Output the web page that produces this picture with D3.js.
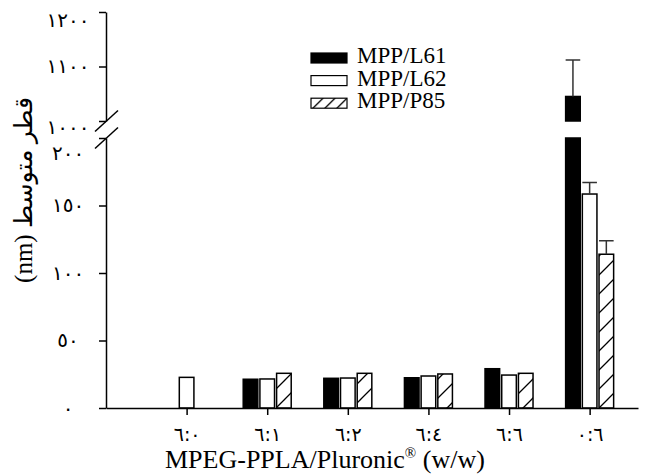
<!DOCTYPE html>
<html>
<head>
<meta charset="utf-8">
<script src="https://cdn.jsdelivr.net/npm/d3@7"></script>
<style>
  body { margin: 0; background: #fff; }
  svg { display: block; }
  .axis path, .axis line { stroke: #000; stroke-width: 1.5px; }
</style>
</head>
<body>
<div id="vis"></div>
<script>
const FRAME_WIDTH = 645;
const FRAME_HEIGHT = 475;

// data
const X_TICK_LABELS = ["٦:٠", "٦:١", "٦:٢", "٦:٤", "٦:٦", "٠:٦"];
const SERIES = ["MPP/L61", "MPP/L62", "MPP/P85"];
const L61 = [null, 21.3, 22.0, 22.4, 29.1, 1045];
const L62 = [22.7, 21.5, 22.2, 23.7, 24.4, 158.5];
const P85 = [null, 25.7, 25.7, 25.2, 25.7, 113.9];
const L61_ERR = [null, null, null, null, null, 67];
const L62_ERR = [null, null, null, null, null, 8.5];
const P85_ERR = [null, null, null, null, null, 10];

const Y_LOW_TICKS = [0, 50, 100, 150, 200];
const Y_LOW_LABELS = ["٠", "٥٠", "١٠٠", "١٥٠", "٢٠٠"];
const Y_HIGH_TICKS = [1000, 1100, 1200];
const Y_HIGH_LABELS = ["١٠٠٠", "١١٠٠", "١٢٠٠"];

const FONT = "'Liberation Serif', 'DejaVu Sans', serif";
const AR_FONT = "'DejaVu Sans', 'Liberation Serif', sans-serif";

const FRAME = d3.select("#vis")
  .append("svg")
    .attr("width", FRAME_WIDTH)
    .attr("height", FRAME_HEIGHT);

// scales, y axis is broken between 200 and 1000
const X_SCALE = d3.scaleLinear().domain([0, 6.6]).range([106, 638]);
const Y_LOW = d3.scaleLinear().domain([0, 200]).range([408, 138]);
const Y_HIGH = d3.scaleLinear().domain([1000, 1200]).range([121, 12]);
const SUB = d3.scaleBand().domain(SERIES).range([-24, 24]).paddingInner(0.125);

// hatch patterns
const defs = FRAME.append("defs");
function hatch(id, size) {
  const p = defs.append("pattern")
    .attr("id", id)
    .attr("patternUnits", "userSpaceOnUse")
    .attr("width", size)
    .attr("height", size);
  p.append("rect").attr("width", size).attr("height", size).attr("fill", "#fff");
  p.append("path")
    .attr("d", `M0,${size} L${size},0 M${-size / 2},${size / 2} L${size / 2},${-size / 2} M${size / 2},${size * 1.5} L${size * 1.5},${size / 2}`)
    .attr("stroke", "#000")
    .attr("stroke-width", 1.3);
}
hatch("hatch", 19);
hatch("hatchSmall", 12);

const FILLS = ["#000", "#fff", "url(#hatch)"];
const LEGEND_FILLS = ["#000", "#fff", "url(#hatchSmall)"];

// rows for the bars
const rows = [];
[L61, L62, P85].forEach((vals, s) => {
  const errs = [L61_ERR, L62_ERR, P85_ERR][s];
  vals.forEach((v, i) => {
    if (v !== null) rows.push({i: i, s: s, value: v, err: errs[i]});
  });
});

// bar pieces (tall bar is drawn in two pieces across the break)
const pieces = [];
rows.forEach(d => {
  if (d.value <= 200) {
    pieces.push({d: d, y0: Y_LOW(0), y1: Y_LOW(d.value)});
  } else {
    pieces.push({d: d, y0: Y_LOW(0), y1: Y_LOW(200)});
    pieces.push({d: d, y0: Y_HIGH(1000), y1: Y_HIGH(d.value)});
  }
});

FRAME.selectAll(".bar")
  .data(pieces)
  .enter()
  .append("rect")
    .attr("class", "bar")
    .attr("x", p => X_SCALE(p.d.i + 1) + SUB(SERIES[p.d.s]))
    .attr("y", p => p.y1)
    .attr("width", SUB.bandwidth())
    .attr("height", p => p.y0 - p.y1)
    .attr("fill", p => FILLS[p.d.s])
    .attr("stroke", "#000")
    .attr("stroke-width", 1.5);

// error bars, upper side only
const errRows = rows.filter(d => d.err !== null);
function yOf(v) { return v > 200 ? Y_HIGH(v) : Y_LOW(v); }

FRAME.selectAll(".err")
  .data(errRows)
  .enter()
  .append("path")
    .attr("class", "err")
    .attr("d", d => {
      const cx = X_SCALE(d.i + 1) + SUB(SERIES[d.s]) + SUB.bandwidth() / 2;
      const top = yOf(d.value + d.err);
      const w = SUB.bandwidth() / 2;
      return `M${cx},${yOf(d.value)} L${cx},${top} M${cx - w},${top} L${cx + w},${top}`;
    })
    .attr("fill", "none")
    .attr("stroke", "#333")
    .attr("stroke-width", 1.5);

// x axis
const xAxis = FRAME.append("g")
  .attr("class", "axis")
  .attr("transform", "translate(0," + Y_LOW(0) + ")")
  .call(d3.axisBottom(X_SCALE)
    .tickValues([1, 2, 3, 4, 5, 6])
    .tickFormat(v => X_TICK_LABELS[v - 1])
    .tickSize(7)
    .tickSizeOuter(0)
    .tickPadding(13));
xAxis.selectAll("text")
  .attr("font-family", AR_FONT)
  .attr("font-size", "19px")
  .attr("fill", "#000");

// y axis, two segments
const LABEL_NUDGE = {1200: 8, 1000: 6, 200: 15};

const yLowAxis = FRAME.append("g")
  .attr("class", "axis")
  .attr("transform", "translate(106,0)")
  .call(d3.axisLeft(Y_LOW)
    .tickValues(Y_LOW_TICKS)
    .tickFormat((v, k) => Y_LOW_LABELS[k])
    .tickSize(7)
    .tickSizeOuter(0)
    .tickPadding(31));

const yHighAxis = FRAME.append("g")
  .attr("class", "axis")
  .attr("transform", "translate(106,0)")
  .call(d3.axisLeft(Y_HIGH)
    .tickValues(Y_HIGH_TICKS)
    .tickFormat((v, k) => Y_HIGH_LABELS[k])
    .tickSize(7)
    .tickSizeOuter(0)
    .tickPadding(31));

[yLowAxis, yHighAxis].forEach(ax => {
  ax.selectAll("text")
    .attr("font-family", AR_FONT)
    .attr("font-size", "20px")
    .attr("fill", "#000")
    .attr("text-anchor", "middle")
    .attr("dy", "0.32em")
    .attr("transform", v => "translate(0," + (LABEL_NUDGE[v] || 0) + ")");
});

// break marks
[Y_HIGH(1000), Y_LOW(200)].forEach(y => {
  FRAME.append("line")
    .attr("x1", 95).attr("y1", y + 10.5)
    .attr("x2", 118).attr("y2", y - 10.5)
    .attr("stroke", "#000")
    .attr("stroke-width", 1.5);
});

// axis titles
FRAME.append("text")
  .attr("x", 165)
  .attr("y", 468)
  .attr("font-family", FONT)
  .attr("font-size", "26px")
  .text("MPEG-PPLA/Pluronic")
  .append("tspan")
    .attr("font-size", "15px")
    .attr("dy", -10)
    .text("®")
  .select(function() { return this.parentNode; })
  .append("tspan")
    .attr("dy", 10)
    .text(" (w/w)");

FRAME.append("text")
  .attr("transform", "translate(32,190) rotate(-90)")
  .attr("text-anchor", "middle")
  .attr("font-family", FONT)
  .attr("font-size", "25px")
  .text("(nm) قطر متوسط");

// legend
const legend = FRAME.selectAll(".legend")
  .data(SERIES)
  .enter()
  .append("g")
    .attr("class", "legend")
    .attr("transform", (d, k) => "translate(311," + (53 + k * 22.6) + ")");

legend.append("rect")
  .attr("width", 36)
  .attr("height", 10)
  .attr("fill", (d, k) => LEGEND_FILLS[k])
  .attr("stroke", "#000")
  .attr("stroke-width", 1.2);

legend.append("text")
  .attr("x", 46)
  .attr("y", 10)
  .attr("font-family", FONT)
  .attr("font-size", "23px")
  .text(d => d);
</script>
</body>
</html>
